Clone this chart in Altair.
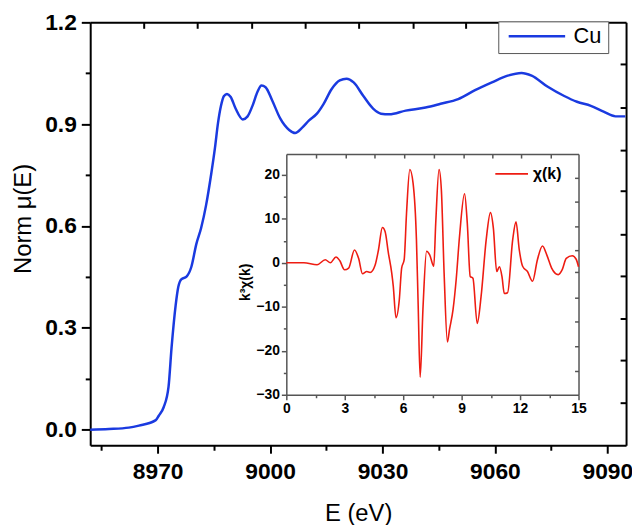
import altair as alt
import pandas as pd

FONT = "Liberation Sans"
TOP = 12
W, H = 541, 427

# ---- main XANES curve (Cu K-edge) ----
main_E = [8952.0, 8957.0, 8962.3, 8965.0, 8969.5, 8970.3, 8971.6, 8972.9, 8973.7, 8974.8,
          8975.5, 8976.3, 8977.7, 8979.0, 8980.3, 8981.6, 8982.9, 8984.3, 8985.3, 8986.1,
          8986.9, 8987.7, 8988.5, 8989.5, 8990.8, 8992.7, 8994.0, 8995.3, 8996.7, 8997.7,
          8998.8, 9000.6, 9002.7, 9005.1, 9006.7, 9008.5, 9010.4, 9012.5, 9014.3, 9016.4,
          9018.6, 9020.4, 9022.3, 9024.9, 9027.5, 9029.6, 9031.8, 9036.2, 9041.5, 9045.5,
          9050.2, 9054.7, 9059.2, 9063.4, 9067.1, 9069.8, 9074.0, 9078.5, 9081.9, 9085.6,
          9089.0, 9092.2, 9094.8]
main_mu = [0.000, 0.002, 0.006, 0.012, 0.028, 0.041, 0.066, 0.126, 0.240, 0.366,
           0.420, 0.443, 0.451, 0.480, 0.546, 0.594, 0.660, 0.754, 0.831, 0.903,
           0.954, 0.983, 0.989, 0.980, 0.946, 0.914, 0.923, 0.954, 0.997, 1.014,
           1.009, 0.969, 0.917, 0.883, 0.874, 0.889, 0.911, 0.931, 0.960, 1.003,
           1.029, 1.034, 1.023, 0.983, 0.946, 0.931, 0.929, 0.940, 0.949, 0.960,
           0.974, 1.000, 1.023, 1.043, 1.051, 1.043, 1.011, 0.983, 0.966, 0.954,
           0.937, 0.923, 0.923]

# ---- inset chi(k) ----
k_vals = [0, 0.9, 1.58, 2.0, 2.26, 2.55, 2.74, 2.99, 3.2, 3.5, 3.71, 3.91, 4.13, 4.3, 4.56,
          4.73, 4.93, 5.07, 5.24, 5.41, 5.49, 5.63, 5.8, 5.92, 6.05, 6.17, 6.34, 6.51, 6.68,
          6.77, 6.87, 7.02, 7.2, 7.36, 7.57, 7.67, 7.84, 7.96, 8.1, 8.27, 8.38, 8.56, 8.72,
          8.89, 9.15, 9.29, 9.44, 9.58, 9.8, 10.0, 10.26, 10.48, 10.63, 10.8, 10.94, 11.07,
          11.19, 11.36, 11.62, 11.79, 11.96, 12.13, 12.38, 12.64, 12.89, 13.15, 13.37, 13.62,
          13.96, 14.17, 14.37, 14.68, 14.88, 15.0]
chi_vals = [0, 0, -0.45, 0.68, 0, 1.3, 0.5, -1.6, -1.2, 2.9, 1.0, -2.5, -2.0, -2.2, -0.5,
            2.9, 8.0, 7.1, 2.2, -2.3, -5.3, -12.5, -8.4, -1.2, 0.7, 11.2, 21.2, 18.0, 5.2,
            -9.9, -26.0, -9.9, 2.6, 1.8, -0.8, 9.0, 21.2, 16.5, -2.3, -18.0, -15.1, -10.6, -3.8,
            5.9, 15.7, 9.0, -3.1, -3.5, -13.8, -7.6, 5.2, 11.4, 7.8, -2.0, -0.9, -3.1,
            -7.0, -6.8, 5.2, 9.3, 2.9, -0.8, -2.0, -4.2, 0.7, 3.8, 1.8, -1.2,
            -2.7, -1.5, 1.0, 1.6, 0.8, -0.9]

# ---- axes tick values ----
main_x_ticks = [8955, 8970, 8985, 9000, 9015, 9030, 9045, 9060, 9075, 9090]
main_y_ticks = [0, 0.15, 0.3, 0.45, 0.6, 0.75, 0.9, 1.05, 1.2]
main_top_ticks = [8966.3, 8980.6, 8995.1, 9009.3, 9023.6, 9038.1, 9052.1, 9066.3, 9080.6]
main_right_ticks = [1.078, 0.949, 0.824, 0.704, 0.576, 0.454, 0.328, 0.206, 0.080]
inset_x_ticks = [0, 1.5, 3, 4.5, 6, 7.5, 9, 10.5, 12, 13.5, 15]
inset_y_ticks = [-30, -25, -20, -15, -10, -5, 0, 5, 10, 15, 20]
inset_top_ticks = [1.55, 3.05, 4.55, 6.07, 7.6, 9.08, 10.6, 12.07, 13.57]
inset_right_ticks = [19.4, 14.0, 8.35, 2.93, -2.03, -7.9, -13.3, -19.0, -24.6]

x_dom = [8952, 9095]
y_dom = [-0.046, 1.2]
k_dom = [0, 15]
chi_dom = [-30, 24.7]

# inset placement inside the plot area (pixels)
IX0, IX1 = 198, 493
IY0, IY1 = 133, 376

main_df = pd.DataFrame({"E": main_E, "mu": main_mu, "series": "Cu"})
chi_df = pd.DataFrame({"k": k_vals, "chi": chi_vals, "series": "χ(k)"})

BLUE = "#1a3ae0"
RED = "#ee1c12"
GRAY = "#555555"

# layer 1: main curve with bottom/left axes
main_line = alt.Chart(main_df).mark_line(color=BLUE, strokeWidth=2.5, interpolate="monotone").encode(
    x=alt.X("E:Q", scale=alt.Scale(domain=x_dom, nice=False, zero=False),
            axis=alt.Axis(orient="bottom", values=main_x_ticks, format="d",
                          labelExpr="datum.value % 30 == 0 ? datum.label : ''",
                          tickSize={"condition": {"test": "datum.value % 30 == 0", "value": 8}, "value": 5},
                          tickWidth=2, tickColor="black", domainColor="black", domainWidth=2,
                          labelFont=FONT, labelFontSize=23, labelFontWeight="bold", labelColor="black",
                          labelPadding=8, labelFlush=False, grid=False,
                          title="E (eV)", titleFont=FONT, titleFontSize=24, titleFontWeight="normal",
                          titleColor="black", titlePadding=18)),
    y=alt.Y("mu:Q", scale=alt.Scale(domain=y_dom, nice=False, zero=False),
            axis=alt.Axis(orient="left", values=main_y_ticks,
                          labelExpr="round(datum.value*100) % 30 == 0 ? format(datum.value, '.1f') : ''",
                          tickSize={"condition": {"test": "round(datum.value*100) % 30 == 0", "value": 9}, "value": 5},
                          tickWidth=2, tickColor="black", domainColor="black", domainWidth=2,
                          labelFont=FONT, labelFontSize=23, labelFontWeight="bold", labelColor="black",
                          labelPadding=5, labelFlush=False, grid=False,
                          title="Norm μ(E)", titleFont=FONT, titleFontSize=24, titleFontWeight="normal",
                          titleColor="black", titleAngle=270, titleAlign="center",
                          titleBaseline="alphabetic", titleX=-60, titleY=198)),
    color=alt.Color("series:N", scale=alt.Scale(domain=["Cu"], range=[BLUE]),
                    legend=alt.Legend(orient="none", legendX=412, legendY=-1, title=None,
                                      symbolType="stroke", symbolStrokeWidth=2.5, symbolSize=3249,
                                      symbolOffset=3, clipHeight=18, labelOffset=7,
                                      labelFont=FONT, labelFontSize=22, labelColor="black",
                                      strokeColor=GRAY, fillColor="white", padding=6)),
)

# layer 2: inward ticks on top and right of main frame
main_frame = alt.Chart(main_df).mark_line(opacity=0).encode(
    x=alt.X("E:Q", scale=alt.Scale(domain=x_dom, nice=False, zero=False),
            axis=alt.Axis(orient="top", values=main_top_ticks, labels=False, title=None,
                          tickSize={"expr": "-6"}, tickWidth=2, tickColor="black",
                          domainColor="black", domainWidth=2, grid=False)),
    y=alt.Y("mu:Q", scale=alt.Scale(domain=y_dom, nice=False, zero=False),
            axis=alt.Axis(orient="right", values=main_right_ticks, labels=False, title=None,
                          tickSize={"expr": "-6"}, tickWidth=2, tickColor="black",
                          domainColor="black", domainWidth=2, grid=False)),
)

# layer 3: inset chi(k)
inset_line = alt.Chart(chi_df).mark_line(color=RED, strokeWidth=1.6, interpolate="monotone").encode(
    x=alt.X("k:Q", scale=alt.Scale(domain=k_dom, range=[IX0, IX1], nice=False, zero=False),
            axis=alt.Axis(orient="bottom", offset=IY1 - H, values=inset_x_ticks,
                          labelExpr="datum.value % 3 == 0 ? datum.label : ''",
                          tickSize={"condition": {"test": "datum.value % 3 == 0", "value": 5}, "value": 3},
                          tickWidth=1.5, tickColor=GRAY, domainColor=GRAY, domainWidth=1.5,
                          labelFont=FONT, labelFontSize=14, labelFontWeight="bold", labelColor="black",
                          labelPadding=2, labelFlush=False, grid=False, title=None)),
    y=alt.Y("chi:Q", scale=alt.Scale(domain=chi_dom, range=[IY1, IY0], nice=False, zero=False),
            axis=alt.Axis(orient="left", offset=-IX0, values=inset_y_ticks,
                          labelExpr="datum.value % 10 == 0 ? datum.label : ''",
                          tickSize={"condition": {"test": "datum.value % 10 == 0", "value": 5}, "value": 3},
                          tickWidth=1.5, tickColor=GRAY, domainColor=GRAY, domainWidth=1.5,
                          labelFont=FONT, labelFontSize=14, labelFontWeight="bold", labelColor="black",
                          labelPadding=2, labelFlush=False, grid=False,
                          title="k³χ(k)", titleFont=FONT, titleFontSize=14, titleFontWeight="bold",
                          titleColor="black", titleAngle=270, titleAlign="center",
                          titleBaseline="alphabetic", titleX=-37, titleY=262)),
    color=alt.Color("series:N", scale=alt.Scale(domain=["χ(k)"], range=[RED]),
                    legend=alt.Legend(orient="none", legendX=406, legendY=143, title=None,
                                      symbolType="stroke", symbolStrokeWidth=1.6, symbolSize=1089,
                                      clipHeight=16, labelOffset=4,
                                      labelFont=FONT, labelFontSize=16, labelFontWeight="bold",
                                      labelColor="black", padding=2)),
)

# layer 4: inset inward ticks on top and right
inset_frame = alt.Chart(chi_df).mark_line(opacity=0).encode(
    x=alt.X("k:Q", scale=alt.Scale(domain=k_dom, range=[IX0, IX1], nice=False, zero=False),
            axis=alt.Axis(orient="top", offset=-IY0, values=inset_top_ticks, labels=False, title=None,
                          tickSize={"expr": "-4"}, tickWidth=1.5, tickColor=GRAY,
                          domainColor=GRAY, domainWidth=1.5, grid=False)),
    y=alt.Y("chi:Q", scale=alt.Scale(domain=chi_dom, range=[IY1, IY0], nice=False, zero=False),
            axis=alt.Axis(orient="right", offset=IX1 - W, values=inset_right_ticks, labels=False, title=None,
                          tickSize={"expr": "-4"}, tickWidth=1.5, tickColor=GRAY,
                          domainColor=GRAY, domainWidth=1.5, grid=False)),
)

chart = alt.layer(main_line, main_frame, inset_line, inset_frame).resolve_scale(
    x="independent", y="independent", color="independent"
).properties(
    width=W, height=H,
    autosize=alt.AutoSizeParams(type="none"),
    padding={"left": 83, "top": TOP, "right": 6, "bottom": 78},
).configure_view(stroke=None).configure(background="white")

chart.save("out.html", embed_options={"renderer": "svg", "actions": False})
